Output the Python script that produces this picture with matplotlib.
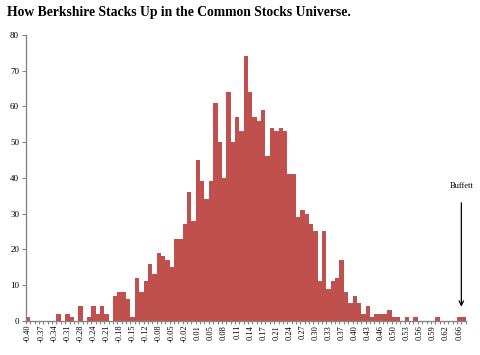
import matplotlib
matplotlib.use("Agg")
import matplotlib.pyplot as plt
import numpy as np

title = "How Berkshire Stacks Up in the Common Stocks Universe."

# histogram counts, one per bin (101 bins)
counts = [1, 0, 0, 0, 0, 0, 0, 2, 0, 2,
          1, 0, 4, 0, 1, 4, 2, 4, 2, 0,
          7, 8, 8, 6, 1, 12, 8, 11, 16, 13,
          19, 18, 17, 15, 23, 23, 27, 36, 28, 45,
          39, 34, 39, 61, 50, 40, 64, 50, 57, 53,
          74, 64, 57, 56, 59, 46, 54, 53, 54, 53,
          41, 41, 29, 31, 30, 27, 25, 11, 25, 9,
          11, 12, 17, 8, 5, 7, 5, 2, 4, 1,
          2, 2, 2, 3, 1, 1, 0, 1, 0, 1,
          0, 0, 0, 0, 1, 0, 0, 0, 0, 1,
          1]

# category labels shown every third bin
tick_labels = ["-0.40", "-0.37", "-0.34", "-0.31", "-0.28", "-0.24", "-0.21",
               "-0.18", "-0.15", "-0.12", "-0.08", "-0.05", "-0.02", "0.01",
               "0.05", "0.08", "0.11", "0.14", "0.17", "0.21", "0.24", "0.27",
               "0.30", "0.33", "0.37", "0.40", "0.43", "0.46", "0.50", "0.53",
               "0.56", "0.59", "0.62", "0.66"]
yticks = [0, 10, 20, 30, 40, 50, 60, 70, 80]
annot_text = "Buffett"
buffett_bins = [99, 100]

serif = ["Liberation Serif", "DejaVu Serif"]
grey = "#868686"
bar_color = "#C0504D"

fig = plt.figure(figsize=(4.8, 3.55), dpi=100)
ax = fig.add_axes([26 / 480, 1 - 320.7 / 355, (465.7 - 26) / 480, (320.7 - 35) / 355])

x = np.arange(len(counts))
ax.bar(x, counts, width=1.0, color=bar_color, linewidth=0)

ax.set_xlim(-0.5, len(counts) - 0.5)
ax.set_ylim(0, 80)

# major ticks: labels every third bin, no tick mark
ax.set_xticks(x[::3][:len(tick_labels)])
ax.set_xticklabels(tick_labels, rotation=90, fontsize=6, family=serif)
ax.tick_params(axis="x", which="major", length=0, pad=3)
# minor ticks at bin boundaries
ax.set_xticks(np.arange(len(counts) + 1) - 0.5, minor=True)
ax.tick_params(axis="x", which="minor", length=2.5, color=grey, width=0.8)

ax.set_yticks(yticks)
ax.set_yticklabels([str(v) for v in yticks], fontsize=6.5, family=serif)
ax.tick_params(axis="y", length=3, color=grey, width=0.8, pad=2)

for s in ["top", "right"]:
    ax.spines[s].set_visible(False)
for s in ["left", "bottom"]:
    ax.spines[s].set_color(grey)
    ax.spines[s].set_linewidth(1.0)

# Buffett annotation
bx = float(np.mean(buffett_bins))
ax.annotate("", xy=(bx, 3.9), xytext=(bx, 33),
            arrowprops=dict(arrowstyle="->", color="black", lw=0.9,
                            shrinkA=0, shrinkB=0, mutation_scale=8))
ax.text(bx, 37.7, annot_text, ha="center", va="center", fontsize=6, family=serif)

fig.text(7 / 480, 1 - 12.5 / 355, title, ha="left", va="center",
         fontsize=9.8, fontweight="bold", family=serif)

fig.savefig("out.png", dpi=100)
